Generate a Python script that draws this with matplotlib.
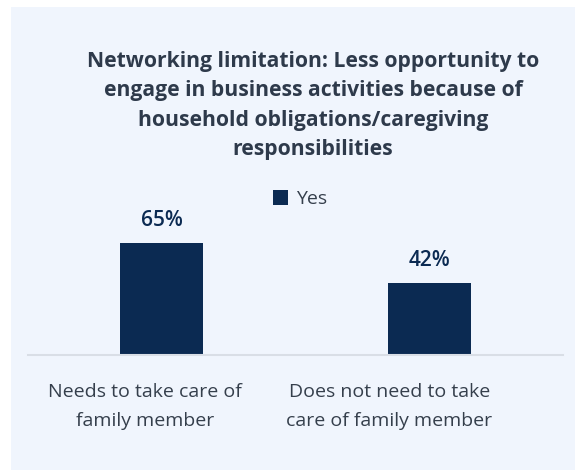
import matplotlib.pyplot as plt
from matplotlib.patches import Rectangle
from matplotlib.transforms import ScaledTranslation

# Data
categories = ['Needs to take care of\nfamily member', 'Does not need to take\ncare of family member']
values = [65, 42]
series_name = 'Yes'
title = ('Networking limitation: Less opportunity to\nengage in business activities because of\n'
         'household obligations/caregiving\nresponsibilities')

W, H = 575, 471
bar_color = '#0B2A52'
text_color = '#353F4C'

plt.rcParams['font.family'] = ['Open Sans', 'DejaVu Sans']

fig = plt.figure(figsize=(W / 100, H / 100), dpi=100)
fig.patch.set_facecolor('white')
fig.patches.append(Rectangle((11 / W, 1 / H), 1 - 11 / W, 463 / H, transform=fig.transFigure,
                             facecolor='#F0F5FD', edgecolor='none', zorder=-5))

ax = fig.add_axes([28 / W, 1 - 355 / H, 535 / W, 137.8 / H])
ax.set_facecolor('none')
x = range(len(categories))
bars = ax.bar(x, values, width=0.31, color=bar_color, label=series_name)
ax.set_xlim(-0.5, 1.5)
ax.set_ylim(0, 80)
for b, v in zip(bars, values):
    ax.text(b.get_x() + b.get_width() / 2, v + 7, f'{v}%', ha='center', va='bottom',
            fontsize=15, fontweight='semibold', color=bar_color)

ax.set_xticks(list(x))
ax.set_xticklabels(categories, fontsize=14, color=text_color, linespacing=1.8)
ax.tick_params(axis='x', length=0, pad=20)
# labels in the original sit a bit left of the bars
for lbl, dx in zip(ax.get_xticklabels(), [-17, -40]):
    lbl.set_transform(lbl.get_transform() + ScaledTranslation(dx / 100, 0, fig.dpi_scale_trans))
ax.set_yticks([])
for s in ['top', 'left', 'right']:
    ax.spines[s].set_visible(False)
ax.spines['bottom'].set_color('#D9DEE6')
ax.spines['bottom'].set_linewidth(1.5)

fig.legend(handles=[bars], labels=[series_name], loc='center', bbox_to_anchor=(300 / W, 1 - 199 / H),
           frameon=False, fontsize=14, labelcolor=text_color, handlelength=0.8, handleheight=0.8,
           handletextpad=0.4)

fig.text(313 / W, 1 - 51 / H, title, ha='center', va='top', fontsize=15.2, fontweight='bold',
         color='#2E3A4B', linespacing=1.52)

fig.savefig('out.png', dpi=100)
